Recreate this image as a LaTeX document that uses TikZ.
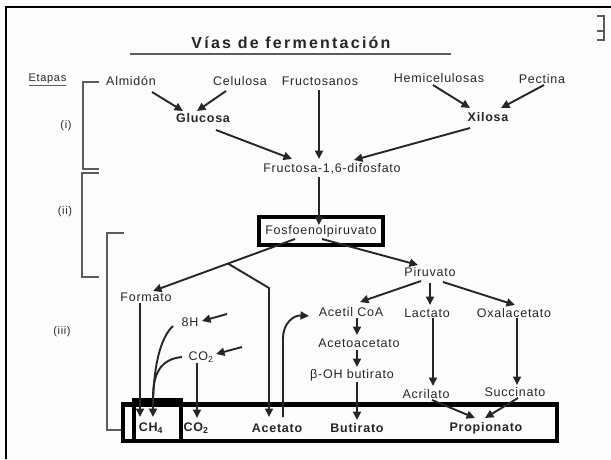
\documentclass[tikz,border=0pt]{standalone}
\usepackage{fontspec}
\setmainfont{Liberation Sans}[LetterSpace=6]
\newfontfamily\titlefont{Liberation Sans}[LetterSpace=14]
\usetikzlibrary{arrows.meta,calc}
\definecolor{ink}{HTML}{262626}
\definecolor{rule}{HTML}{5c5c5c}
\definecolor{paper}{HTML}{FCFCFC}
\begin{document}
\begin{tikzpicture}[x=1pt,y=-1pt,
  lbl/.style={inner sep=0pt,text=ink,font=\fontsize{12.5}{14}\selectfont},
  blbl/.style={inner sep=0pt,text=ink,font=\fontsize{12.5}{14}\selectfont\bfseries},
  stage/.style={inner sep=0pt,text=ink,font=\fontsize{11}{13}\selectfont},
  arr/.style={draw=ink,line width=1.9pt,-{Triangle[length=8.5pt,width=8pt]}},
  ln/.style={draw=ink,line width=1.9pt},
  brk/.style={draw=rule,line width=1.1pt},
  hbox/.style={draw=black,line width=4.5pt},
]
% page
\fill[paper] (0,0) rectangle (611,459);
\useasboundingbox (0,0) rectangle (611,459);

% outer frame and corner mark
\draw[black,line width=2.5pt] (6,459) -- (6,7) -- (611,7);
\draw[rule,line width=1.2pt] (597,16) -- (604,16) -- (604,40) -- (597,40);
\draw[rule,line width=1.2pt] (597,31) -- (604,31);

% title
\node[inner sep=0pt,text=ink,font=\titlefont\fontsize{16}{19}\selectfont\bfseries] (title) at (291,43) {Vías de fermentación};
\draw[rule,line width=1.4pt] (130,54) -- (451,54);

% stages
\node[stage] (etapas) at (47.5,79) {Etapas};
\draw[rule,line width=1pt] ($(etapas.south west)+(0,1)$) -- ($(etapas.south east)+(0,1)$);
\node[stage] (st1) at (66,126) {(i)};
\node[stage] (st2) at (65,212) {(ii)};
\node[stage] (st3) at (62,332) {(iii)};
\draw[brk] (99,82) -- (83,82) -- (83,169) -- (99,169);
\draw[brk] (99,173) -- (82,173) -- (82,277) -- (99,277);
\draw[brk] (124,233) -- (107,233) -- (107,430) -- (122,430);

% stage (i): polymers and sugars
\node[lbl] (alm)  at (131,81) {Almidón};
\node[lbl] (celu) at (240,81) {Celulosa};
\node[lbl] (fsan) at (320,81) {Fructosanos};
\node[lbl] (hemi) at (439,78) {Hemicelulosas};
\node[lbl] (pect) at (542,79) {Pectina};
\node[blbl] (glu) at (203,118) {Glucosa};
\node[blbl] (xil) at (488,117) {Xilosa};
\node[lbl] (fru) at (332,169) {Fructosa-1,6-difosfato};

\draw[arr] ($(alm)+(21,11)$) -- ($(glu)+(-20,-7)$);
\draw[arr] ($(celu)+(-14,10)$) -- ($(glu)+(-6,-7)$);
\draw[arr] ($(fsan)+(-1,9)$) -- ($(fru)+(-13,-10)$);
\draw[arr] ($(hemi)+(-6,7)$) -- ($(xil)+(-18,-9)$);
\draw[arr] ($(pect)+(2,6)$) -- ($(xil)+(13,-9)$);
\draw[arr] ($(glu)+(13,12)$) -- ($(fru)+(-40,-10)$);
\draw[arr] ($(xil)+(-18,11)$) -- ($(fru)+(22,-9)$);

% stage (ii)
\node[lbl,draw=black,line width=3.8pt,minimum width=124.5pt,minimum height=28.5pt] (fosfo) at (321,231) {Fosfoenolpiruvato};
\draw[arr] ($(fru)+(-13,8)$) -- ($(fosfo)+(-2,-6)$);

% stage (iii)
\node[lbl] (form) at (146,297) {Formato};
\node[lbl] (pir)  at (430,272) {Piruvato};
\node[lbl] (acoa) at (351,312) {Acetil CoA};
\node[lbl] (lac)  at (427,313) {Lactato};
\node[lbl] (oxa)  at (514,313) {Oxalacetato};
\node[lbl] (aca)  at (359,343) {Acetoacetato};
\node[lbl] (boh)  at (352,375) {β-OH butirato};
\node[lbl] (acr)  at (426,394) {Acrilato};
\node[lbl] (suc)  at (515,392) {Succinato};
\node[lbl] (h8)   at (190,322) {8H};
\node[lbl] (co2a) at (201,357) {CO\textsubscript{2}};

\node[blbl] (ch4)  at (151,428) {CH\textsubscript{4}};
\node[blbl] (co2b) at (196,428) {CO\textsubscript{2}};
\node[blbl] (ace)  at (277,428) {Acetato};
\node[blbl] (but)  at (357,428) {Butirato};
\node[blbl] (prop) at (486,428) {Propionato};

% products box and methane box
\draw[hbox] (123,404.5) rectangle (557,441);
\draw[black,line width=4pt] (134,399.5) rectangle (181,441);

% branches leaving phosphoenolpyruvate
\coordinate (fL) at ($(fosfo)+(-26,8)$);
\coordinate (fT) at ($(form)+(7,-6)$);
\draw[arr] (fL) -- (fT);
\draw[arr] ($(fL)!0.472!(fT)$) -- ($(ace)+(-8,-140)$) -- ($(ace)+(-8,-11)$);
\draw[arr] ($(fosfo)+(1,8)$) -- ($(pir)+(-12,-7)$);

% pyruvate branches
\draw[arr] ($(pir)+(-9,9)$) -- ($(acoa)+(9,-10)$);
\draw[arr] ($(pir)+(0,11)$) -- ($(lac)+(3,-8)$);
\draw[arr] ($(pir)+(13,10)$) -- ($(oxa)+(1,-8)$);

% butyrate route
\draw[arr] ($(acoa)+(6,6)$) -- ($(aca)+(-2,-8)$);
\draw[arr] ($(aca)+(-2,7)$) -- ($(boh)+(5,-8)$);
\draw[arr] ($(boh)+(5,7)$) -- ($(but)+(0,-8)$);

% propionate routes
\draw[arr] ($(lac)+(6,5)$) -- ($(acr)+(7,-8)$);
\draw[arr] ($(oxa)+(3,5)$) -- ($(suc)+(2,-7)$);
\draw[arr] ($(acr)+(6,6)$) -- ($(prop)+(-11,-10)$);
\draw[arr] ($(suc)+(3,6)$) -- ($(prop)+(-1,-10)$);

% methane and carbon dioxide
\draw[arr] ($(form)+(-6,6)$) -- ($(ch4)+(-11,-11)$);
\draw[arr] ($(h8)+(37,-8)$) -- ($(h8)+(12,-1)$);
\draw[arr] ($(co2a)+(41,-10)$) -- ($(co2a)+(15,-3)$);
\draw[arr] ($(h8)+(-17,4)$) .. controls ($(h8)+(-30,16)$) and ($(ch4)+(2,-60)$) .. ($(ch4)+(2,-11)$);
\draw[ln] ($(co2a)+(-19,0)$) .. controls ($(co2a)+(-40,2)$) and ($(ch4)+(2,-55)$) .. ($(ch4)+(2,-30)$);
\draw[arr] ($(co2a)+(-4,6)$) -- ($(co2b)+(1,-10)$);

% acetate back to acetyl-CoA
\draw[arr] ($(ace)+(6,-11)$) -- ($(ace)+(6,-90)$) .. controls ($(ace)+(6,-104)$) and ($(acoa)+(-58,3)$) .. ($(acoa)+(-42,4)$);
\end{tikzpicture}
\end{document}
